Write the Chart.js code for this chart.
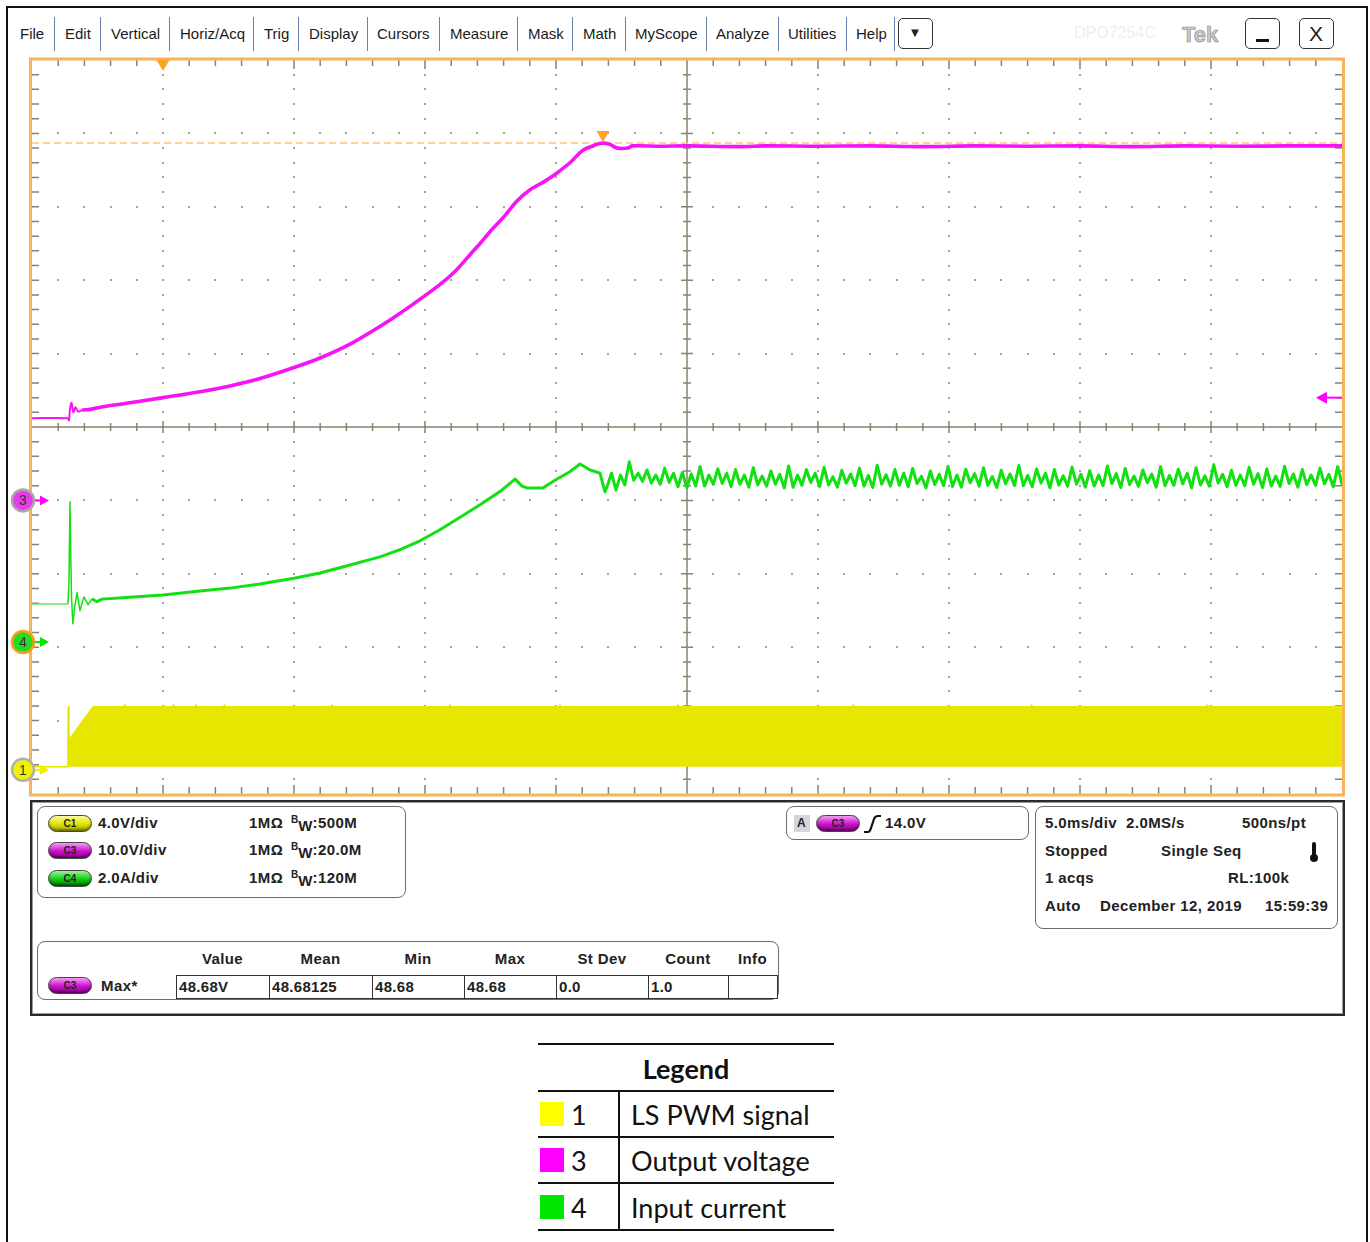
<!DOCTYPE html>
<html>
<head>
<meta charset="utf-8">
<title>Boost converter start-up</title>
<script src="https://cdn.jsdelivr.net/npm/chart.js@4/dist/chart.umd.min.js"></script>
<style>
  html, body { margin: 0; padding: 0; background: #fff; }
  body { width: 1370px; height: 1242px; position: relative; overflow: hidden;
         font-family: "Liberation Sans", Arial, sans-serif; color: #222; }
  .abs { position: absolute; }
  .t { position: absolute; white-space: nowrap; line-height: 16px; }
  .menu { font-size: 15px; color: #1a1a1a; top: 26px; }
  .sep { position: absolute; top: 17px; width: 1px; height: 34px; background: #6b7fae; }
  .btn { position: absolute; top: 18px; height: 31px; border: 1.5px solid #333; border-radius: 5px; box-sizing: border-box; background: #fff; }
  .panel { position: absolute; border: 1px solid #6d6d6d; border-radius: 8px; box-sizing: border-box; }
  .b { font-weight: bold; font-size: 15px; letter-spacing: 0.4px; color: #222; }
  .pill { position: absolute; width: 44px; height: 17px; border-radius: 9px; border: 1px solid #444;
          box-sizing: border-box; font: bold 10px "Liberation Sans", Arial, sans-serif; text-align: center;
          line-height: 15px; color: #222; box-shadow: inset 0 -2px 2px rgba(0,0,0,0.35); }
  .c1 { background: linear-gradient(#fbfb9c, #e0e000 55%, #a6a600); }
  .c3 { background: linear-gradient(#f49af4, #cc10cc 55%, #8a008a); }
  .c4 { background: linear-gradient(#9af49a, #10cc10 55%, #007a00); }
  .sup { font-size: 10px; position: relative; top: -5px; letter-spacing: 0; }
  .sub { position: relative; top: 3px; }
  .cell { position: absolute; top: 975px; height: 24px; border: 1px solid #333; box-sizing: border-box;
          font: bold 15px "Liberation Sans", Arial, sans-serif; letter-spacing: 0.3px; line-height: 21px; padding-left: 2px; background: #fff; }
  #legend { position: absolute; left: 538px; top: 1043px; width: 296px; font-family: Lato, "Noto Sans", sans-serif; }
  #legend .line { position: absolute; left: 0; width: 296px; height: 2px; background: #111; }
</style>
</head>
<body>
<!-- outer frame -->
<div class="abs" style="left:6px;top:6px;width:1362px;height:1240px;border:2px solid #111;border-bottom:none;box-sizing:border-box"></div>

<!-- menu bar -->
<div class="t menu" style="left:20px">File</div>
<div class="sep" style="left:54px"></div>
<div class="t menu" style="left:65px">Edit</div>
<div class="sep" style="left:100px"></div>
<div class="t menu" style="left:111px">Vertical</div>
<div class="sep" style="left:169px"></div>
<div class="t menu" style="left:180px">Horiz/Acq</div>
<div class="sep" style="left:253px"></div>
<div class="t menu" style="left:264px">Trig</div>
<div class="sep" style="left:298px"></div>
<div class="t menu" style="left:309px">Display</div>
<div class="sep" style="left:367px"></div>
<div class="t menu" style="left:377px">Cursors</div>
<div class="sep" style="left:439px"></div>
<div class="t menu" style="left:450px">Measure</div>
<div class="sep" style="left:517px"></div>
<div class="t menu" style="left:528px">Mask</div>
<div class="sep" style="left:572px"></div>
<div class="t menu" style="left:583px">Math</div>
<div class="sep" style="left:625px"></div>
<div class="t menu" style="left:635px">MyScope</div>
<div class="sep" style="left:706px"></div>
<div class="t menu" style="left:716px">Analyze</div>
<div class="sep" style="left:778px"></div>
<div class="t menu" style="left:788px">Utilities</div>
<div class="sep" style="left:846px"></div>
<div class="t menu" style="left:856px">Help</div>
<div class="sep" style="left:894px"></div>
<div class="btn" style="left:898px;width:35px;"><div class="t" style="left:0;width:32px;text-align:center;top:6px;font-size:13px">&#9660;</div></div>
<div class="t" style="left:1074px;top:25px;font-size:16px;color:#eeeef2">DPO7254C</div>
<div class="t" style="left:1182px;top:23px;font-size:22px;line-height:24px;color:#c8c8c8;font-weight:bold;-webkit-text-stroke:0.6px #8a8a8a">Tek</div>
<div class="btn" style="left:1245px;width:35px;"><div class="abs" style="left:10px;top:20px;width:13px;height:3px;background:#111"></div></div>
<div class="btn" style="left:1299px;width:35px;"><div class="t" style="left:0;width:32px;text-align:center;top:4px;font-size:21px;line-height:22px">X</div></div>

<!-- scope display -->
<canvas id="scope" class="abs" style="left:0;top:0" width="1370" height="800"></canvas>

<!-- readout area -->
<div class="abs" style="left:30px;top:800px;width:1315px;height:216px;border:2px solid #2a2a2a;box-shadow:inset 0 0 0 1px #9a9a9a;box-sizing:border-box"></div>

<div class="panel" style="left:37px;top:806px;width:369px;height:92px"></div>
<div class="pill c1" style="left:48px;top:815px">C1</div>
<div class="t b" style="left:98px;top:815px">4.0V/div</div>
<div class="t b" style="left:249px;top:815px">1MΩ</div>
<div class="t b" style="left:291px;top:815px"><span class="sup">B</span><span class="sub">W</span>:500M</div>
<div class="pill c3" style="left:48px;top:842px">C3</div>
<div class="t b" style="left:98px;top:842px">10.0V/div</div>
<div class="t b" style="left:249px;top:842px">1MΩ</div>
<div class="t b" style="left:291px;top:842px"><span class="sup">B</span><span class="sub">W</span>:20.0M</div>
<div class="pill c4" style="left:48px;top:870px">C4</div>
<div class="t b" style="left:98px;top:870px">2.0A/div</div>
<div class="t b" style="left:249px;top:870px">1MΩ</div>
<div class="t b" style="left:291px;top:870px"><span class="sup">B</span><span class="sub">W</span>:120M</div>

<div class="panel" style="left:786px;top:806px;width:243px;height:34px"></div>
<div class="abs" style="left:794px;top:815px;width:16px;height:17px;background:#d6d6d6"></div>
<div class="t b" style="left:797px;top:815px;font-size:12px">A</div>
<div class="pill c3" style="left:816px;top:815px">C3</div>
<svg class="abs" style="left:862px;top:813px" width="22" height="22" viewBox="0 0 22 22">
  <path d="M2 19 L6 19 Q8 19 9 15 L12 6 Q13 3 16 3 L19 3" fill="none" stroke="#111" stroke-width="2.2"/>
</svg>
<div class="t b" style="left:885px;top:815px">14.0V</div>

<div class="panel" style="left:1035px;top:806px;width:303px;height:123px"></div>
<div class="t b" style="left:1045px;top:815px">5.0ms/div&nbsp;&nbsp;2.0MS/s</div>
<div class="t b" style="left:1242px;top:815px">500ns/pt</div>
<div class="t b" style="left:1045px;top:843px">Stopped</div>
<div class="t b" style="left:1161px;top:843px">Single Seq</div>
<div class="abs" style="left:1312px;top:842px;width:4px;height:16px;background:#111;border-radius:2px"></div>
<div class="abs" style="left:1310px;top:854px;width:8px;height:8px;background:#111;border-radius:50%"></div>
<div class="t b" style="left:1045px;top:870px">1 acqs</div>
<div class="t b" style="left:1228px;top:870px">RL:100k</div>
<div class="t b" style="left:1045px;top:898px">Auto</div>
<div class="t b" style="left:1100px;top:898px">December 12, 2019</div>
<div class="t b" style="left:1265px;top:898px">15:59:39</div>

<div class="panel" style="left:37px;top:941px;width:742px;height:59px"></div>
<div id="measHead"></div>
<div class="pill c3" style="left:48px;top:977px">C3</div>
<div class="t b" style="left:101px;top:978px">Max*</div>
<div id="measRow"></div>

<!-- legend -->
<div id="legend"></div>

<script>
// ---- channel settings (volts or amps per division) ----
const c1VoltsPerDiv = 4.0;
const c3VoltsPerDiv = 10.0;
const c4AmpsPerDiv = 2.0;
// ground reference position of each channel, in divisions from screen centre
const c1GroundDiv = -4.63;
const c3GroundDiv = -1.0;
const c4GroundDiv = -2.93;

// ---- time base: 5 ms/div, trigger at t = 0 ----
const timeMinMs = -5;
const timeMaxMs = 45;

// ---- series names and colours ----
const channelNumbers = ['1', '3', '4'];
const seriesNames = ['LS PWM signal', 'Output voltage', 'Input current'];
const legendColors = ['#ffff00', '#ff00ff', '#00e600'];

// ---- channel 3: output voltage (ms, V) ----
const outVoltT = [-5, -3.63, -3.59, -3.55, -3.49, -3.42, -3.34, -3.24, -3.09, -2.79, -2.40, -1.26, 0,
  1.41, 2.56, 3.70, 5.00, 5.99, 7.14, 8.28, 9.05, 10.0, 10.6, 11.2, 11.7, 12.1, 12.48, 13.05, 13.51,
  14.0, 14.58, 14.96, 15.53, 16.03, 16.56, 16.79, 17.06, 17.33, 17.75, 17.90, 19, 20, 22, 23, 25,
  27, 29, 31, 33, 35, 37, 39, 41, 43, 45];
const outVoltV = [11.2, 11.2, 10.9, 12.4, 13.3, 12.0, 12.7, 12.1, 12.3, 12.4, 12.7, 13.3, 14.0,
  14.8, 15.6, 16.6, 18.1, 19.4, 21.3, 23.7, 25.5, 27.9, 29.5, 31.4, 33.4, 35.0, 36.6, 38.8, 40.8,
  42.3, 43.5, 44.4, 46.0, 47.7, 48.5, 48.68, 48.5, 48.0, 48.0, 48.3, 48.25, 48.3, 48.2, 48.3, 48.25,
  48.3, 48.2, 48.3, 48.25, 48.3, 48.2, 48.3, 48.25, 48.3, 48.3];

// ---- channel 4: input current, start-up transient (ms, A) ----
const inCurrT = [-5, -3.63, -3.59, -3.55, -3.52, -3.49, -3.44, -3.36, -3.28, -3.17, -3.02, -2.86,
  -2.71, -2.52, -2.33, -1.26, 0, 1.41, 2.56, 3.70, 5.00, 5.99, 7.14, 8.28, 9.05, 9.81, 10.57,
  11.34, 12.10, 12.86, 13.44, 13.70, 13.89, 14.50, 14.96, 15.53, 15.92, 16.30, 16.68, 16.87, 16.98];
const inCurrA = [1.04, 1.04, 1.6, 3.82, 2.3, 1.2, 0.5, 1.0, 1.35, 0.85, 1.23, 1.02,
  1.18, 1.10, 1.17, 1.22, 1.28, 1.39, 1.47, 1.58, 1.74, 1.88, 2.10, 2.32, 2.52, 2.76, 3.06,
  3.40, 3.74, 4.10, 4.44, 4.25, 4.20, 4.20, 4.41, 4.64, 4.85, 4.69, 4.60, 4.09, 4.30];
// steady-state ripple, sampled every 0.169 ms from 17.12 ms (A)
const rippleStartMs = 17.12;
const rippleStepMs = 0.169;
const inCurrRippleA = [
  4.60, 4.14, 4.55, 4.28, 4.91, 4.41, 4.60, 4.38, 4.69, 4.33, 4.55, 4.30, 4.74, 4.35, 4.60, 4.23,
  4.62, 4.20, 4.58, 4.25, 4.78, 4.25, 4.55, 4.30, 4.72, 4.32, 4.60, 4.24, 4.70, 4.30, 4.55, 4.22,
  4.75, 4.28, 4.52, 4.25, 4.66, 4.30, 4.57, 4.20, 4.80, 4.22, 4.55, 4.27, 4.70, 4.35, 4.60, 4.24,
  4.76, 4.28, 4.50, 4.22, 4.68, 4.33, 4.58, 4.26, 4.74, 4.25, 4.54, 4.21, 4.82, 4.30, 4.56, 4.25,
  4.70, 4.27, 4.60, 4.23, 4.73, 4.32, 4.52, 4.20, 4.66, 4.29, 4.57, 4.26, 4.79, 4.24, 4.55, 4.22,
  4.71, 4.34, 4.59, 4.25, 4.75, 4.27, 4.51, 4.21, 4.68, 4.31, 4.58, 4.27, 4.81, 4.26, 4.54, 4.23,
  4.72, 4.33, 4.60, 4.20, 4.70, 4.28, 4.53, 4.25, 4.77, 4.30, 4.57, 4.22, 4.67, 4.25, 4.55, 4.26,
  4.80, 4.32, 4.59, 4.21, 4.73, 4.29, 4.52, 4.24, 4.69, 4.34, 4.58, 4.22, 4.78, 4.26, 4.54, 4.27,
  4.71, 4.31, 4.60, 4.20, 4.75, 4.28, 4.53, 4.25, 4.83, 4.33, 4.57, 4.23, 4.68, 4.27, 4.55, 4.26,
  4.76, 4.30, 4.59, 4.21, 4.72, 4.25, 4.52, 4.24, 4.79, 4.32, 4.58, 4.22, 4.70, 4.29, 4.55, 4.27,
  4.74, 4.31, 4.57, 4.23, 4.78, 4.28];

// ---- channel 1: low-side PWM, upper envelope of the switching waveform (ms, V) ----
const pwmEnvT = [-5, -3.63, -3.62, -3.59, -2.67, -1.5, -1.45, -1.4, 0.35, 0.4, 0.45, 1.2, 1.25, 1.3,
  2.3, 2.35, 2.4, 6.4, 6.45, 6.5, 10.9, 10.95, 11.0, 15.1, 15.15, 15.2, 19.6, 19.65, 19.7,
  26.3, 26.35, 26.4, 33.1, 33.15, 33.2, 39.8, 39.85, 39.9, 45];
const pwmEnvV = [0, 0, 3.3, 1.47, 3.27, 3.27, 3.38, 3.27, 3.27, 3.38, 3.27, 3.27, 3.38, 3.27,
  3.27, 3.37, 3.27, 3.27, 3.36, 3.27, 3.27, 3.37, 3.27, 3.27, 3.36, 3.27, 3.27, 3.36, 3.27,
  3.27, 3.38, 3.27, 3.27, 3.36, 3.27, 3.27, 3.37, 3.27, 3.27];

// ---- measurement readout (channel 3 maximum) ----
const measLabels = ['Value', 'Mean', 'Min', 'Max', 'St Dev', 'Count', 'Info'];
const measValues = ['48.68V', '48.68125', '48.68', '48.68', '0.0', '1.0', ''];
const c3MaxVolts = 48.68;
const c3MaxTimeMs = 16.79;
const c3TriggerVolts = 14.0;

// ---------------------------------------------------------------
const toPoints = (ts, vs) => ts.map((t, i) => ({ x: t, y: vs[i] }));
const currentPoints = toPoints(inCurrT, inCurrA).concat(
  inCurrRippleA.map((a, i) => ({ x: rippleStartMs + i * rippleStepMs, y: a })));

// scale limits so that each channel's ground sits at its reference division
const rangeFor = (perDiv, groundDiv) => ({ min: (-5 - groundDiv) * perDiv, max: (5 - groundDiv) * perDiv });
const r1 = rangeFor(c1VoltsPerDiv, c1GroundDiv);
const r3 = rangeFor(c3VoltsPerDiv, c3GroundDiv);
const r4 = rangeFor(c4AmpsPerDiv, c4GroundDiv);

const GRAT = '#8b8372';
const ORANGE = '#f7b35c';

// graticule drawn underneath the traces
const graticule = {
  id: 'graticule',
  beforeDatasetsDraw(chart) {
    const { ctx, chartArea: a, scales } = chart;
    const xs = scales.x, yd = scales.yDiv, y3 = scales.y3;
    ctx.save();
    // dotted rows and columns
    ctx.fillStyle = '#a4a4a4';
    for (let d = -4; d <= 4; d++) {
      if (d === 0) continue;
      const py = Math.round(yd.getPixelForValue(d));
      for (let t = timeMinMs + 1; t < timeMaxMs; t += 1) {
        ctx.fillRect(Math.round(xs.getPixelForValue(t)) - 1, py - 1, 2, 2);
      }
    }
    for (let t = timeMinMs + 5; t < timeMaxMs; t += 5) {
      if (t === 20) continue;
      const px = Math.round(xs.getPixelForValue(t));
      for (let k = -24; k <= 24; k++) {
        ctx.fillRect(px - 1, Math.round(yd.getPixelForValue(k * 0.2)) - 1, 2, 2);
      }
    }
    ctx.strokeStyle = GRAT;
    ctx.lineWidth = 1.5;
    // centre crosshair with minor ticks
    const cy = yd.getPixelForValue(0), cx = xs.getPixelForValue(20);
    ctx.beginPath();
    ctx.moveTo(a.left, cy); ctx.lineTo(a.right, cy);
    ctx.moveTo(cx, a.top); ctx.lineTo(cx, a.bottom);
    for (let t = timeMinMs + 1; t < timeMaxMs; t += 1) {
      const px = xs.getPixelForValue(t), h = (t % 5 === 0) ? 6 : 4;
      ctx.moveTo(px, cy - h); ctx.lineTo(px, cy + h);
      // top and bottom edge ticks
      ctx.moveTo(px, a.top); ctx.lineTo(px, a.top + (t % 5 === 0 ? 9 : 6));
      ctx.moveTo(px, a.bottom); ctx.lineTo(px, a.bottom - (t % 5 === 0 ? 9 : 7));
    }
    for (let k = -24; k <= 24; k++) {
      const py = yd.getPixelForValue(k * 0.2), h = (k % 5 === 0) ? 6 : 4;
      ctx.moveTo(cx - h, py); ctx.lineTo(cx + h, py);
      // left and right edge ticks
      ctx.moveTo(a.left, py); ctx.lineTo(a.left + 7, py);
      ctx.moveTo(a.right, py); ctx.lineTo(a.right - 7, py);
    }
    ctx.stroke();
    // measurement level for the channel 3 maximum
    const my = y3.getPixelForValue(c3MaxVolts);
    ctx.strokeStyle = '#ffc070';
    ctx.lineWidth = 1.5;
    ctx.setLineDash([7, 4]);
    ctx.beginPath(); ctx.moveTo(a.left, my); ctx.lineTo(a.right, my); ctx.stroke();
    ctx.restore();
  },
  afterDatasetsDraw(chart) {
    const { ctx, chartArea: a, scales } = chart;
    const xs = scales.x;
    ctx.save();
    // display border
    ctx.strokeStyle = ORANGE;
    ctx.lineWidth = 3;
    ctx.strokeRect(a.left - 1.5, a.top - 1, a.right - a.left + 3, a.bottom - a.top + 2);
    // trigger position and measurement markers
    const tri = (x, yTip) => {
      ctx.beginPath();
      ctx.moveTo(x - 6.5, yTip - 11); ctx.lineTo(x + 6.5, yTip - 11); ctx.lineTo(x, yTip); ctx.closePath();
      ctx.fill();
    };
    ctx.fillStyle = '#ffa41c';
    tri(xs.getPixelForValue(0), a.top + 11);
    tri(xs.getPixelForValue(c3MaxTimeMs), scales.y3.getPixelForValue(c3MaxVolts) - 1);
    // trigger level arrow on the right edge
    const ty = scales.y3.getPixelForValue(c3TriggerVolts);
    ctx.strokeStyle = '#ff00ff'; ctx.fillStyle = '#ff00ff'; ctx.lineWidth = 2;
    ctx.beginPath(); ctx.moveTo(a.right - 20, ty); ctx.lineTo(a.right, ty); ctx.stroke();
    ctx.beginPath(); ctx.moveTo(a.right - 26, ty); ctx.lineTo(a.right - 15, ty - 6); ctx.lineTo(a.right - 15, ty + 6); ctx.closePath(); ctx.fill();
    // channel ground markers
    const marker = (y, num, fill, ring, arrow) => {
      ctx.strokeStyle = arrow; ctx.fillStyle = arrow; ctx.lineWidth = 2;
      ctx.beginPath(); ctx.moveTo(33, y); ctx.lineTo(42, y); ctx.stroke();
      ctx.beginPath(); ctx.moveTo(49, y); ctx.lineTo(40, y - 5); ctx.lineTo(40, y + 5); ctx.closePath(); ctx.fill();
      ctx.beginPath(); ctx.arc(23, y, 11, 0, Math.PI * 2);
      ctx.fillStyle = fill; ctx.fill();
      ctx.lineWidth = 2.5; ctx.strokeStyle = ring; ctx.stroke();
      ctx.fillStyle = '#333'; ctx.font = '14px "Liberation Sans", Arial, sans-serif';
      ctx.textAlign = 'center'; ctx.textBaseline = 'middle';
      ctx.fillText(num, 23, y + 1);
    };
    marker(scales.y3.getPixelForValue(0), channelNumbers[1], '#e83ce8', '#a8a8a8', '#ff00ff');
    marker(scales.y4.getPixelForValue(0), channelNumbers[2], '#22dd22', '#ff9a1a', '#00e600');
    marker(scales.y1.getPixelForValue(0) + 3, channelNumbers[0], '#f2f200', '#b0b0b0', '#f0f000');
    ctx.restore();
  }
};

new Chart(document.getElementById('scope'), {
  type: 'line',
  data: {
    datasets: [
      {
        label: seriesNames[0], data: toPoints(pwmEnvT, pwmEnvV), yAxisID: 'y1',
        borderColor: '#e6e600', backgroundColor: '#e6e600', borderWidth: 1.5,
        fill: { value: 0 }, pointRadius: 0, tension: 0
      },
      {
        label: seriesNames[2], data: currentPoints, yAxisID: 'y4',
        borderColor: '#12e012', borderWidth: 3, fill: false, pointRadius: 0, tension: 0,
        borderJoinStyle: 'round',
        segment: { borderWidth: c => c.p1.parsed.x < -2.6 ? 1.5 : undefined,
                   borderColor: c => c.p1.parsed.x <= -3.63 ? '#5fe05f' : undefined }
      },
      {
        label: seriesNames[1], data: toPoints(outVoltT, outVoltV), yAxisID: 'y3',
        borderColor: '#f614f6', borderWidth: 3.6, fill: false, pointRadius: 0, tension: 0.3,
        borderJoinStyle: 'round',
        segment: { borderWidth: c => c.p1.parsed.x < -3.0 ? 2 : undefined }
      }
    ]
  },
  options: {
    responsive: false, animation: false, events: [],
    layout: { padding: { left: 32, right: 28, top: 60, bottom: 6 } },
    plugins: { legend: { display: false }, tooltip: { enabled: false } },
    scales: {
      x: { type: 'linear', min: timeMinMs, max: timeMaxMs, display: false },
      yDiv: { type: 'linear', min: -5, max: 5, display: false },
      y1: { type: 'linear', min: r1.min, max: r1.max, display: false },
      y3: { type: 'linear', min: r3.min, max: r3.max, display: false },
      y4: { type: 'linear', min: r4.min, max: r4.max, display: false }
    }
  },
  plugins: [graticule]
});

// measurement header and value cells
const cellEdges = [176, 269, 372, 464, 556, 648, 728, 777];
const head = document.getElementById('measHead');
const row = document.getElementById('measRow');
measLabels.forEach((h, i) => {
  const d = document.createElement('div');
  d.className = 't b';
  d.style.left = cellEdges[i] + 'px';
  d.style.width = (cellEdges[i + 1] - cellEdges[i]) + 'px';
  d.style.textAlign = 'center';
  d.style.top = '951px';
  d.textContent = h;
  head.appendChild(d);
});
measValues.forEach((v, i) => {
  const c = document.createElement('div');
  c.className = 'cell';
  c.style.left = cellEdges[i] + 'px';
  c.style.width = (cellEdges[i + 1] - cellEdges[i] + 1) + 'px';
  c.textContent = v;
  row.appendChild(c);
});

// legend table
const lg = document.getElementById('legend');
let html = '<div class="line" style="top:0"></div>' +
  '<div style="position:absolute;left:0;width:296px;top:10px;text-align:center;font-weight:bold;font-size:27px;line-height:32px;color:#111">Legend</div>' +
  '<div class="line" style="top:47px"></div>' +
  '<div style="position:absolute;left:80px;top:47px;width:2px;height:139px;background:#111"></div>';
[0, 1, 2].forEach((k, i) => {
  const top = 47 + i * 46.3;
  html += `<div style="position:absolute;left:2px;top:${top + 12}px;width:24px;height:24px;background:${legendColors[k]}"></div>` +
    `<div style="position:absolute;left:33px;top:${top + 8}px;font-size:27px;line-height:34px;color:#111">${channelNumbers[k]}</div>` +
    `<div style="position:absolute;left:93px;top:${top + 8}px;font-size:27px;line-height:34px;color:#111;white-space:nowrap">${seriesNames[k]}</div>` +
    `<div class="line" style="top:${Math.round(top + 46)}px"></div>`;
});
lg.innerHTML = html;
</script>
</body>
</html>
